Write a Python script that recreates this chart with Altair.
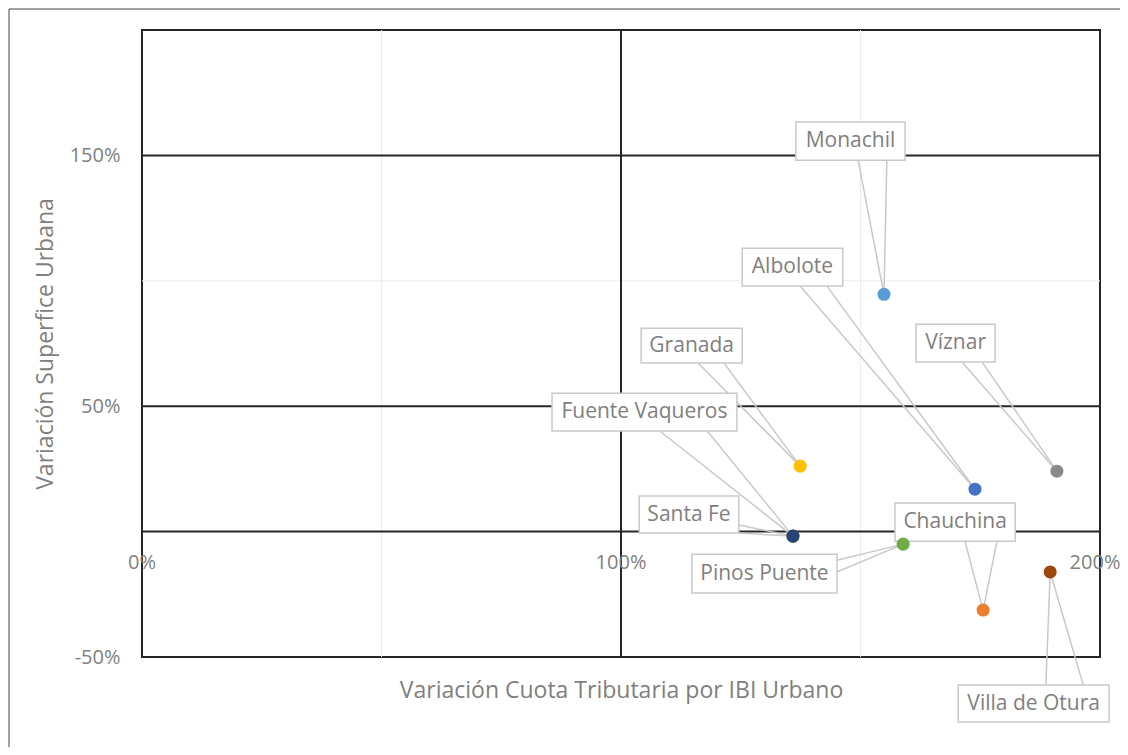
import altair as alt
import pandas as pd

# ---- data ----
names = ["Fuente Vaqueros", "Santa Fe", "Granada", "Monachil", "Albolote",
         "Víznar", "Pinos Puente", "Chauchina", "Villa de Otura"]
x_ibi = [135.9, 135.9, 137.4, 154.9, 173.9, 191.0, 158.9, 175.6, 189.6]
y_sup = [-1.8, -1.8, 26.1, 94.6, 16.9, 24.1, -5.0, -31.3, -16.1]
colors = ["#997300", "#264478", "#FFC000", "#5B9BD5", "#4472C4",
          "#8a8a8a", "#70AD47", "#ED7D31", "#9E480E"]

# callout boxes (data units) and the two anchor points of each leader
box_x1 = [85.6, 103.8, 104.2, 136.5, 125.3, 161.6, 114.8, 157.2, 170.4]
box_x2 = [124.2, 124.6, 125.3, 159.3, 146.3, 178.1, 145.1, 182.3, 201.9]
box_y1 = [40.1, -0.6, 67.2, 148.1, 97.9, 67.6, -24.5, -3.8, -75.9]
box_y2 = [55.2, 14.2, 81.1, 163.3, 113.0, 82.7, -9.0, 11.4, -61.2]
legA_x = [108.1, 124.6, 116.1, 149.5, 137.4, 171.2, 145.1, 171.8, 188.7]
legA_y = [40.1, 2.6, 67.2, 148.1, 97.9, 67.6, -11.4, -3.8, -61.2]
legB_x = [118.0, 124.6, 121.5, 155.5, 143.0, 175.4, 145.1, 178.5, 196.5]
legB_y = [40.1, -0.6, 67.2, 148.1, 97.9, 67.6, -16.1, -3.8, -61.2]

x_ticks = [0, 100, 200]
y_ticks = [-50, 50, 150]
major_x = [100]
major_y = [0, 50, 150]
minor_x = [50, 150]
minor_y = [100]

df = pd.DataFrame({
    "name": names, "x": x_ibi, "y": y_sup, "color": colors,
    "bx1": box_x1, "bx2": box_x2, "by1": box_y1, "by2": box_y2,
    "ax": legA_x, "ay": legA_y, "cx": legB_x, "cy": legB_y,
})
df["tx"] = (df["bx1"] + df["bx2"]) / 2
df["ty"] = (df["by1"] + df["by2"]) / 2

FONT = "Open Sans"
GRAY = "#7f7f7f"
xs = alt.Scale(domain=[0, 200], nice=False, zero=False)
ys = alt.Scale(domain=[-50, 200], nice=False, zero=False)

base = alt.Chart(df)

X = alt.X("x:Q", scale=xs, axis=alt.Axis(
    title="Variación Cuota Tributaria por IBI Urbano", labels=False, ticks=False,
    domain=False, grid=False, titlePadding=22, titleFont=FONT, titleFontSize=23,
    titleColor=GRAY, titleFontWeight="normal"))
Y = alt.Y("y:Q", scale=ys, axis=alt.Axis(
    title="Variación Superfice Urbana", values=y_ticks, labelExpr="datum.value + '%'",
    ticks=False, domain=False, grid=False, labelPadding=22, labelFont=FONT,
    labelFontSize=20, labelColor=GRAY, titlePadding=12, titleFont=FONT,
    titleFontSize=23, titleColor=GRAY, titleFontWeight="normal"))

minor_v = alt.Chart(pd.DataFrame({"v": minor_x})).mark_rule(
    color="#ececec", strokeWidth=1).encode(x=alt.X("v:Q", scale=xs))
minor_h = alt.Chart(pd.DataFrame({"v": minor_y})).mark_rule(
    color="#ececec", strokeWidth=1).encode(y=alt.Y("v:Q", scale=ys))
major_v = alt.Chart(pd.DataFrame({"v": major_x})).mark_rule(
    color="#262626", strokeWidth=2).encode(x=alt.X("v:Q", scale=xs))
major_h = alt.Chart(pd.DataFrame({"v": major_y})).mark_rule(
    color="#262626", strokeWidth=2).encode(y=alt.Y("v:Q", scale=ys))

legA = base.mark_rule(color="#c9c9c9", strokeWidth=1.5).encode(
    x=alt.X("x:Q", scale=xs), y=alt.Y("y:Q", scale=ys), x2="ax:Q", y2="ay:Q")
legB = base.mark_rule(color="#c9c9c9", strokeWidth=1.5).encode(
    x=alt.X("x:Q", scale=xs), y=alt.Y("y:Q", scale=ys), x2="cx:Q", y2="cy:Q")

boxes = base.mark_rect(fill="white", stroke="#c9c9c9", strokeWidth=1.5).encode(
    x=alt.X("bx1:Q", scale=xs), x2="bx2:Q", y=alt.Y("by1:Q", scale=ys), y2="by2:Q")
texts = base.mark_text(font=FONT, fontSize=21, color=GRAY, baseline="middle").encode(
    x=alt.X("tx:Q", scale=xs), y=alt.Y("ty:Q", scale=ys), text="name:N")

points = base.mark_circle(size=170, opacity=1).encode(
    x=X, y=Y, color=alt.Color("color:N", scale=None))

tick_df = pd.DataFrame({"v": x_ticks, "z": [0] * len(x_ticks),
                        "t": [f"{v}%" for v in x_ticks]})
xlab = alt.Chart(tick_df).mark_text(
    font=FONT, fontSize=20, color=GRAY, baseline="middle", align="right").encode(
    x=alt.X("v:Q", scale=xs), y=alt.Y("z:Q", scale=ys), text="t:N")
xlab = alt.Chart(tick_df).transform_filter("datum.v < 200").mark_text(
    font=FONT, fontSize=20, color=GRAY, dy=31, baseline="middle").encode(
    x=alt.X("v:Q", scale=xs), y=alt.Y("z:Q", scale=ys), text="t:N")
xlab_last = alt.Chart(tick_df).transform_filter("datum.v >= 200").mark_text(
    font=FONT, fontSize=20, color=GRAY, dy=31, dx=-5, baseline="middle").encode(
    x=alt.X("v:Q", scale=xs), y=alt.Y("z:Q", scale=ys), text="t:N")

frame_df = pd.DataFrame({"k": [0]})
frame_top = alt.Chart(frame_df).mark_rule(color="#444", strokeWidth=1).encode(
    x=alt.value(-133), x2=alt.value(990), y=alt.value(-21))
frame_left = alt.Chart(frame_df).mark_rule(color="#444", strokeWidth=1).encode(
    x=alt.value(-133), y=alt.value(-21), y2=alt.value(730))

chart = alt.layer(
    minor_v, minor_h, major_v, major_h, legA, legB, boxes, texts, points,
    xlab, xlab_last, frame_top, frame_left,
).properties(
    width=958, height=627,
    autosize=alt.AutoSizeParams(type="none"),
    padding={"left": 134, "top": 22, "right": 20, "bottom": 90},
    background="white",
).configure_view(stroke="#262626", strokeWidth=2)

chart.save("out.html", embed_options={"renderer": "svg", "actions": False})
